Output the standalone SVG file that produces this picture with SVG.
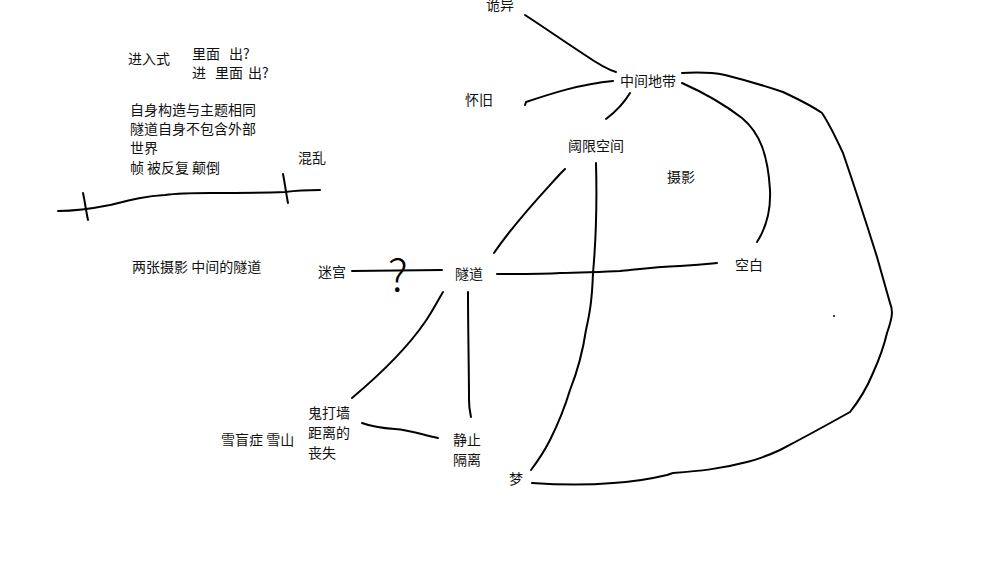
<svg xmlns="http://www.w3.org/2000/svg" width="1000" height="562" viewBox="0 0 1000 562">
<style>
text{font-family:"Noto Sans CJK SC","Noto Sans",sans-serif;font-size:14px;fill:#111}
.c{fill:none;stroke:#000;stroke-width:2;stroke-linecap:round;stroke-linejoin:round}
text.q{font-family:"Noto Sans CJK SC","DejaVu Sans",sans-serif;font-size:44px;font-weight:300;fill:#000}
</style>
<rect width="1000" height="562" fill="#fff"/>
<g id="connectors">
<path class="c" d="M525,15 C545,28 565,42 585,55 C598,64 606,69 616,72"/>
<path class="c" d="M525,105 L526,102 C550,94 580,84 613,81"/>
<path class="c" d="M630,93 C624,103 618,110 606,119"/>
<path class="c" d="M682,83 C700,91 720,101 742,118 C760,133 768,155 770,190 C771,212 766,228 757,242"/>
<path class="c" d="M682,73 C700,72 715,73 725,75 C745,80 765,86 783,92 C800,100 812,106 822,113 C830,125 836,138 843,153 C855,188 866,222 877,257 L890,303 C893,310 893,316 887,333 C883,350 878,362 873,373 C866,390 858,402 850,412 C825,426 803,438 780,450 C765,457 755,460 747,462 C720,469 700,471 673,473 L667,475 C650,479 635,482 613,483 C590,485 560,485 532,483"/>
<path class="c" d="M565,169 L560,174 C540,196 515,222 494,253"/>
<path class="c" d="M596,163 C597,200 596,240 593,273 C592,300 590,312 586,330 C583,350 578,370 570,390 C564,410 556,428 550,440 C544,452 537,462 531,470"/>
<path class="c" d="M497,274 C530,274 545,274 560,273 C590,272 605,272 620,271 C640,269 655,267 680,266 C700,265 708,264 717,263"/>
<path class="c" d="M352,271 L442,270"/>
<path class="c" d="M443,292 C437,302 432,312 425,322 C410,344 390,366 352,398"/>
<path class="c" d="M468,292 C468,330 469,370 469,400 C469,408 470,412 471,417"/>
<path class="c" d="M362,423 C370,426 380,428 395,429 C410,430 420,434 438,438"/>
<path class="c" d="M58,211 C75,211 90,209 110,205 C130,200 145,196 165,195 C180,193 195,193 210,193 C240,193 260,193 285,192 C300,190 310,190 320,190"/>
<path class="c" d="M83,193 C85,202 86,211 88,220"/>
<path class="c" d="M283,174 C285,184 286,193 288,203"/>
<circle cx="834" cy="316" r="1" fill="#000"/>
</g>
<g id="question"><text class="q" x="398" y="291" text-anchor="middle">?</text></g>
<g id="n-guiyi"><text x="486" y="10">诡异</text></g>
<g id="n-zhongjian"><text x="620" y="86">中间地带</text></g>
<g id="n-huaijiu"><text x="465" y="105">怀旧</text></g>
<g id="n-yuxian"><text x="568" y="151">阈限空间</text></g>
<g id="n-sheying"><text x="667" y="182">摄影</text></g>
<g id="n-kongbai"><text x="735" y="270">空白</text></g>
<g id="n-suidao"><text x="455" y="279">隧道</text></g>
<g id="n-migong"><text x="318" y="277">迷宫</text></g>
<g id="n-guidaqiang"><text x="308" y="418">鬼打墙</text><text x="308" y="438">距离的</text><text x="308" y="458">丧失</text></g>
<g id="n-xuemang"><text x="221" y="445">雪盲症 雪山</text></g>
<g id="n-jingzhi"><text x="453" y="445">静止</text><text x="453" y="465">隔离</text></g>
<g id="n-meng"><text x="509" y="484">梦</text></g>
<g id="n-jinrushi"><text x="128" y="64">进入式</text></g>
<g id="n-limian"><text x="192" y="59">里面<tspan x="229">出?</tspan></text><text x="192" y="78">进<tspan x="215">里面</tspan><tspan x="248">出?</tspan></text></g>
<g id="n-zishen"><text x="130" y="115">自身构造与主题相同</text><text x="130" y="134">隧道自身不包含外部</text><text x="130" y="153">世界</text><text x="130" y="173">帧<tspan x="147">被反复</tspan><tspan x="192">颠倒</tspan></text></g>
<g id="n-hunluan"><text x="298" y="163">混乱</text></g>
<g id="n-liangzhang"><text x="132" y="272">两张摄影 中间的隧道</text></g>
</svg>
